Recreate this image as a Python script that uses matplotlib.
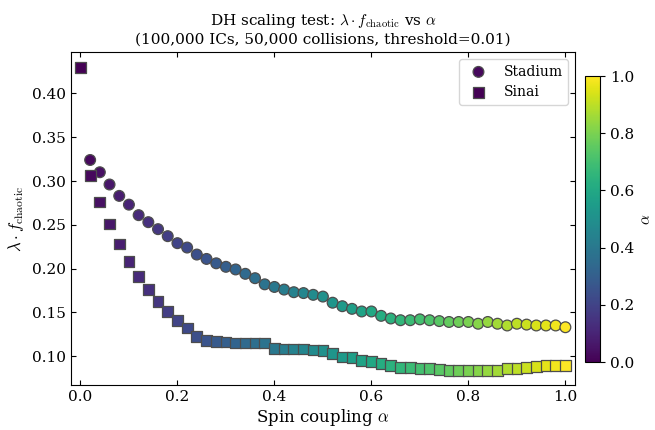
import matplotlib
matplotlib.use("Agg")
import matplotlib.pyplot as plt
import numpy as np

plt.rcParams['font.family'] = 'DejaVu Serif'
plt.rcParams['mathtext.fontset'] = 'cm'

# spin coupling values
alpha_stadium = np.round(np.arange(1, 51) * 0.02, 2)
alpha_sinai = np.round(np.arange(0, 51) * 0.02, 2)

stadium = [0.324, 0.310, 0.296, 0.283, 0.273, 0.261, 0.253, 0.245, 0.237, 0.229,
           0.224, 0.216, 0.211, 0.206, 0.202, 0.199, 0.194, 0.189, 0.182, 0.179,
           0.176, 0.173, 0.172, 0.170, 0.168, 0.161, 0.157, 0.154, 0.151, 0.151,
           0.146, 0.143, 0.141, 0.141, 0.142, 0.141, 0.140, 0.139, 0.139, 0.139,
           0.137, 0.139, 0.137, 0.135, 0.137, 0.136, 0.135, 0.135, 0.135, 0.133]

sinai = [0.430, 0.306, 0.276, 0.251, 0.228, 0.208, 0.191, 0.176, 0.162, 0.151,
         0.141, 0.132, 0.122, 0.118, 0.117, 0.116, 0.115, 0.115, 0.115, 0.115,
         0.109, 0.108, 0.108, 0.108, 0.107, 0.106, 0.103, 0.099, 0.098, 0.095,
         0.094, 0.092, 0.089, 0.087, 0.087, 0.086, 0.086, 0.085, 0.084, 0.084,
         0.084, 0.084, 0.084, 0.084, 0.086, 0.086, 0.087, 0.088, 0.089, 0.089,
         0.089]

fig = plt.figure(figsize=(6.55, 4.3), dpi=100)
ax = fig.add_axes([0.108, 0.104, 0.77, 0.775])

sc = ax.scatter(alpha_stadium, stadium, c=alpha_stadium, cmap='viridis', vmin=0, vmax=1,
                marker='o', s=60, edgecolors='0.3', linewidths=0.9, label='Stadium', zorder=3)
ax.scatter(alpha_sinai, sinai, c=alpha_sinai, cmap='viridis', vmin=0, vmax=1,
           marker='s', s=60, edgecolors='0.3', linewidths=0.9, label='Sinai', zorder=3)

ax.set_xlim(-0.02, 1.02)
ax.set_xticks([0.0, 0.2, 0.4, 0.6, 0.8, 1.0])
ax.set_yticks([0.10, 0.15, 0.20, 0.25, 0.30, 0.35, 0.40])
ax.tick_params(direction='in', top=True, right=True, labelsize=11)
ax.set_xlabel(r'Spin coupling $\alpha$', fontsize=12, labelpad=2)
ax.set_ylabel(r'$\lambda \cdot f_{\mathrm{chaotic}}$', fontsize=12)
ax.set_title('DH scaling test: $\\lambda \\cdot f_{\\mathrm{chaotic}}$ vs $\\alpha$\n'
             '(100,000 ICs, 50,000 collisions, threshold=0.01)', fontsize=11)
ax.legend(loc='upper right', fontsize=10)

cax = fig.add_axes([0.893, 0.158, 0.023, 0.665])
cb = fig.colorbar(sc, cax=cax)
cb.set_label(r'$\alpha$', fontsize=11)
cb.ax.tick_params(labelsize=11)

fig.savefig('out.png', dpi=100)
